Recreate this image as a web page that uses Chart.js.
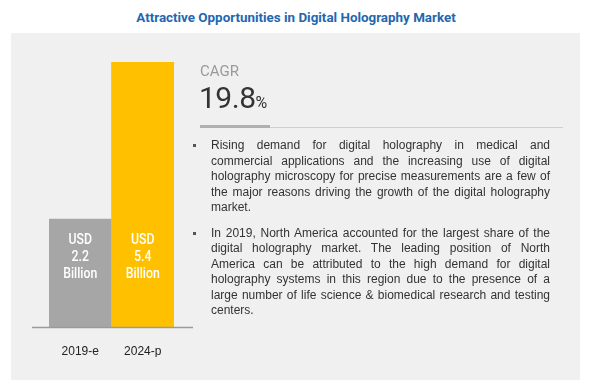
<!DOCTYPE html>
<html>
<head>
<meta charset="utf-8">
<script src="https://cdn.jsdelivr.net/npm/chart.js@4"></script>
<style>
  html, body { margin: 0; padding: 0; background: #fff; }
  body { width: 592px; height: 391px; position: relative; overflow: hidden; font-family: "Liberation Sans", Arial, sans-serif; }
  #title { position: absolute; left: 0; width: 592px; top: 10px; text-align: center; color: #2367b0; font: bold 13.4px Roboto, sans-serif; }
  #panel { position: absolute; left: 11px; top: 33px; width: 569px; height: 347px; background: #f0f0f0; }
  #chart { position: absolute; left: 0; top: 0; }
  #cagrLabel { position: absolute; left: 200px; top: 62px; color: #9a9a9a; font: 15px Roboto, sans-serif; }
  #cagrValue { position: absolute; left: 199px; top: 80px; color: #333; font: 30px Roboto, sans-serif; letter-spacing: -0.5px; }
  #cagrValue span { font-size: 16px; }
  #rule1 { position: absolute; left: 200px; top: 125px; width: 70px; height: 3px; background: #b0b0b0; }
  #rule2 { position: absolute; left: 270px; top: 127px; width: 293px; height: 1px; background: #d0d0d0; }
  ul { position: absolute; left: 211px; top: 138px; width: 339px; margin: 0; padding: 0; list-style: none; color: #333; font-size: 12px; line-height: 15.5px; text-align: justify; }
  li { position: relative; margin-bottom: 10px; }
  li::before { content: ""; position: absolute; left: -18px; top: 6px; width: 3px; height: 3px; background: #555; }
</style>
</head>
<body>
<div id="title">Attractive Opportunities in Digital Holography Market</div>
<div id="panel"></div>
<canvas id="chart" width="592" height="391"></canvas>
<div id="cagrLabel">CAGR</div>
<div id="cagrValue">19.8<span>%</span></div>
<div id="rule1"></div>
<div id="rule2"></div>
<ul id="points"></ul>
<script>
const years = ['2019-e', '2024-p'];
const marketSize = [2.2, 5.4];
const barLabels = [['USD', '2.2', 'Billion'], ['USD', '5.4', 'Billion']];
const drivers = [
  'Rising demand for digital holography in medical and commercial applications and the increasing use of digital holography microscopy for precise measurements are a few of the major reasons driving the growth of the digital holography market.',
  'In 2019, North America accounted for the largest share of the digital holography market. The leading position of North America can be attributed to the high demand for digital holography systems in this region due to the presence of a large number of life science & biomedical research and testing centers.'
];

const list = document.getElementById('points');
drivers.forEach(t => {
  const li = document.createElement('li');
  li.textContent = t;
  list.appendChild(li);
});

// baseline wider than the bars
const baseline = {
  id: 'baseline',
  afterDatasetsDraw(chart) {
    const ctx = chart.ctx;
    const y = chart.chartArea.bottom + 0.5;
    ctx.save();
    ctx.strokeStyle = '#9a9a9a';
    ctx.lineWidth = 1.5;
    ctx.beginPath();
    ctx.moveTo(32, y);
    ctx.lineTo(193, y);
    ctx.stroke();
    ctx.restore();
  }
};

// white value text inside the bars, squeezed a bit like a condensed face
const barText = {
  id: 'barText',
  afterDatasetsDraw(chart) {
    const ctx = chart.ctx;
    const meta = chart.getDatasetMeta(0);
    meta.data.forEach((bar, i) => {
      barLabels[i].forEach((line, j) => {
        ctx.save();
        ctx.translate(bar.x, chart.chartArea.bottom - 87 + j * 17);
        ctx.scale(0.82, 1);
        ctx.fillStyle = '#fff';
        ctx.font = '500 15px Roboto, sans-serif';
        ctx.textAlign = 'center';
        ctx.textBaseline = 'middle';
        ctx.fillText(line, 0, 0);
        ctx.restore();
      });
    });
  }
};

new Chart(document.getElementById('chart'), {
  type: 'bar',
  data: {
    labels: years,
    datasets: [{
      data: marketSize,
      backgroundColor: ['#a6a6a6', '#ffc000'],
      barPercentage: 1,
      categoryPercentage: 1
    }]
  },
  options: {
    responsive: false,
    animation: false,
    layout: { padding: { left: 49, right: 418, top: 33, bottom: 34 } },
    plugins: { legend: { display: false }, tooltip: { enabled: false } },
    scales: {
      x: {
        grid: { display: false },
        border: { display: false },
        ticks: { color: '#222', font: { size: 12, family: 'Liberation Sans' }, padding: 9 },
        afterFit: s => { s.height = 30; }
      },
      y: {
        display: false,
        min: 0,
        max: 6
      }
    }
  },
  plugins: [baseline, barText]
});
</script>
</body>
</html>
